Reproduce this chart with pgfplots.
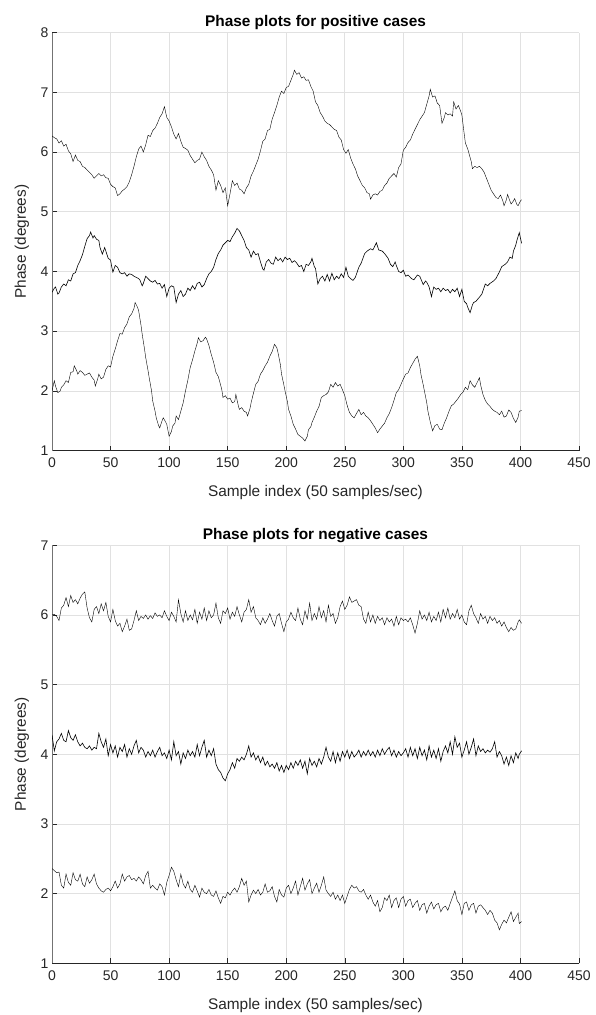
\documentclass[border=0pt]{standalone}
\usepackage{fontspec}
\setmainfont{Liberation Sans}
\usepackage{pgfplots}
\pgfplotsset{compat=1.18}
\definecolor{gridc}{RGB}{225,225,225}
\definecolor{axc}{RGB}{38,38,38}
\pgfplotsset{
  common/.style={
    scale only axis, width=527pt, height=418pt,
    anchor=south west,
    xmin=0, xmax=450, xtick={0,50,...,450},
    axis lines=left,
    x axis line style={-, draw=axc, line width=0.6pt},
    y axis line style={-, draw=black!55, line width=0.9pt},
    tick align=inside, major tick length=5pt,
    every tick/.style={axc, line width=0.5pt},
    grid=major, major grid style={gridc, line width=0.6pt},
    tick label style={font=\fontsize{14}{16}\selectfont, text=axc},
    xticklabel style={yshift=-4pt},
    /pgf/number format/assume math mode=true,
    label style={font=\fontsize{15.4}{17}\selectfont, text=axc},
    xlabel style={at={(axis description cs:0.5,0)}, anchor=center, yshift=-42pt},
    ylabel style={at={(axis description cs:-0.057,0.5)}, anchor=center},
    title style={font=\bfseries\fontsize{15.4}{17}\selectfont, yshift=-7pt},
    xlabel={Sample index (50 samples/sec)},
    ylabel={Phase (degrees)},
    cycle list={{black, line width=0.6pt}},
    every axis plot/.append style={no marks},
  }
}
\begin{document}
\begin{tikzpicture}
\path[use as bounding box] (0,0) rectangle (595pt,1015pt);
\begin{axis}[common, at={(52pt,564.4pt)}, ymin=1, ymax=8, ytick={1,...,8},
  title={Phase plots for positive cases}]
\addplot coordinates {(0,6.27) (2,6.24) (4,6.22) (6,6.15) (8,6.19) (10,6.10) (12,6.13) (14,6.02) (16,5.97) (18,5.84) (20,5.95) (22,5.86) (24,5.84) (26,5.76) (28,5.74) (30,5.70) (32,5.66) (34,5.62) (36,5.56) (38,5.60) (40,5.64) (42,5.60) (44,5.62) (46,5.57) (48,5.56) (50,5.46) (52,5.42) (54,5.40) (56,5.27) (58,5.30) (60,5.35) (62,5.38) (64,5.42) (66,5.50) (68,5.62) (70,5.76) (72,5.92) (74,6.05) (76,6.10) (78,6.00) (80,6.12) (82,6.28) (84,6.26) (86,6.36) (88,6.40) (90,6.48) (92,6.58) (94,6.64) (96,6.76) (98,6.58) (100,6.52) (102,6.42) (104,6.30) (106,6.22) (108,6.31) (110,6.18) (112,6.08) (114,6.06) (116,6.03) (118,5.94) (120,5.88) (122,5.82) (124,5.86) (126,5.88) (128,6.00) (130,5.92) (132,5.86) (134,5.76) (136,5.70) (138,5.62) (140,5.36) (142,5.52) (144,5.44) (146,5.32) (148,5.40) (150,5.10) (152,5.30) (154,5.52) (156,5.44) (158,5.48) (160,5.38) (162,5.36) (164,5.30) (166,5.40) (168,5.46) (170,5.60) (172,5.68) (174,5.78) (176,5.88) (178,6.02) (180,6.18) (182,6.22) (184,6.36) (186,6.38) (188,6.55) (190,6.66) (192,6.78) (194,6.92) (196,7.02) (198,6.98) (200,7.08) (202,7.10) (204,7.20) (206,7.30) (207,7.37) (209,7.30) (211,7.33) (213,7.24) (215,7.26) (217,7.20) (219,7.21) (221,7.10) (223,7.02) (225,6.84) (227,6.78) (229,6.66) (231,6.60) (233,6.52) (235,6.48) (237,6.46) (239,6.42) (241,6.38) (243,6.36) (245,6.25) (247,6.20) (249,6.04) (251,5.98) (253,6.04) (255,5.90) (257,5.80) (259,5.72) (261,5.60) (263,5.52) (265,5.44) (267,5.40) (269,5.32) (271,5.30) (272,5.21) (274,5.28) (276,5.30) (278,5.28) (280,5.34) (282,5.36) (284,5.44) (286,5.48) (288,5.56) (290,5.60) (292,5.64) (294,5.58) (296,5.74) (298,5.80) (300,6.03) (302,6.08) (304,6.16) (306,6.20) (308,6.30) (310,6.38) (312,6.46) (314,6.54) (316,6.60) (318,6.66) (320,6.80) (322,6.94) (323,7.05) (325,6.92) (327,6.94) (329,6.82) (331,6.78) (333,6.48) (335,6.58) (336,6.66) (338,6.62) (340,6.64) (342,6.60) (343,6.84) (345,6.72) (347,6.78) (349,6.68) (350,6.62) (352,6.30) (353,6.15) (355,6.05) (356,5.98) (358,5.84) (359,5.72) (361,5.76) (363,5.74) (365,5.76) (367,5.72) (369,5.66) (371,5.56) (373,5.46) (375,5.36) (377,5.30) (379,5.24) (381,5.22) (383,5.28) (385,5.18) (386,5.10) (388,5.20) (389,5.29) (391,5.18) (392,5.13) (394,5.18) (395,5.22) (397,5.12) (398,5.10) (400,5.18) (401,5.20)};
\addplot coordinates {(0,3.65) (2,3.72) (3,3.74) (5,3.62) (6,3.64) (8,3.74) (10,3.79) (12,3.76) (14,3.86) (16,3.84) (18,3.96) (20,3.98) (22,4.10) (24,4.18) (26,4.28) (28,4.42) (30,4.55) (32,4.60) (33,4.66) (35,4.56) (36,4.60) (38,4.54) (40,4.52) (41,4.40) (43,4.29) (45,4.40) (46,4.34) (48,4.22) (50,4.19) (51,4.08) (52,3.99) (54,4.10) (56,4.07) (58,3.98) (60,3.96) (62,3.98) (64,3.92) (66,3.96) (68,3.95) (70,3.92) (72,3.90) (74,3.88) (75,3.86) (77,3.76) (78,3.80) (80,3.92) (82,3.88) (84,3.84) (86,3.82) (88,3.85) (90,3.79) (92,3.80) (94,3.72) (96,3.78) (98,3.58) (100,3.72) (102,3.76) (104,3.74) (106,3.48) (108,3.62) (110,3.68) (112,3.58) (114,3.62) (116,3.72) (118,3.68) (120,3.76) (122,3.70) (124,3.80) (126,3.82) (128,3.74) (130,3.78) (132,3.88) (134,3.96) (136,4.00) (138,4.07) (140,4.20) (142,4.30) (144,4.36) (146,4.44) (148,4.48) (150,4.52) (152,4.50) (154,4.58) (156,4.64) (158,4.72) (160,4.68) (162,4.60) (164,4.52) (166,4.40) (168,4.36) (170,4.24) (172,4.34) (174,4.28) (176,4.30) (178,4.16) (180,4.04) (181,4.02) (183,4.16) (185,4.20) (187,4.14) (189,4.12) (191,4.24) (193,4.18) (195,4.22) (197,4.16) (199,4.24) (201,4.20) (203,4.22) (205,4.15) (207,4.18) (209,4.14) (211,4.08) (213,4.10) (215,4.00) (217,4.12) (219,4.10) (221,4.16) (222,4.22) (224,4.08) (225,4.05) (227,3.79) (229,3.88) (231,3.92) (233,3.84) (235,3.95) (237,3.84) (239,3.97) (241,3.86) (243,3.92) (245,3.88) (247,3.96) (249,3.90) (251,4.07) (253,3.92) (255,3.88) (257,3.85) (259,3.90) (262,4.07) (264,4.14) (267,4.30) (269,4.34) (272,4.38) (274,4.36) (277,4.48) (279,4.36) (282,4.34) (284,4.30) (287,4.22) (289,4.12) (291,4.08) (293,4.16) (294,4.10) (296,4.00) (298,3.98) (300,4.02) (302,3.92) (304,3.94) (307,3.88) (309,3.86) (312,3.94) (314,3.92) (317,3.78) (319,3.84) (320,3.82) (322,3.74) (324,3.58) (326,3.74) (328,3.70) (330,3.72) (332,3.66) (334,3.72) (336,3.68) (338,3.70) (340,3.64) (342,3.70) (344,3.66) (346,3.72) (348,3.58) (350,3.70) (352,3.50) (354,3.46) (355,3.40) (357,3.31) (359,3.44) (360,3.48) (362,3.50) (365,3.57) (367,3.62) (370,3.79) (372,3.76) (374,3.80) (377,3.84) (379,3.88) (382,3.99) (384,4.08) (387,4.12) (389,4.16) (391,4.24) (393,4.22) (394,4.34) (396,4.44) (397,4.52) (399,4.65) (401,4.47)};
\addplot coordinates {(0,2.00) (2,2.17) (3,2.08) (5,1.97) (7,2.00) (8,2.06) (10,2.10) (12,2.17) (14,2.14) (16,2.31) (18,2.32) (19,2.42) (21,2.34) (22,2.28) (24,2.34) (26,2.31) (28,2.26) (30,2.28) (32,2.30) (34,2.23) (36,2.18) (37,2.08) (39,2.20) (40,2.28) (42,2.20) (44,2.23) (46,2.36) (48,2.42) (50,2.40) (52,2.58) (54,2.70) (56,2.84) (58,2.96) (60,2.95) (62,3.06) (64,3.12) (66,3.24) (68,3.29) (70,3.38) (71,3.48) (73,3.40) (74,3.34) (76,3.10) (77,2.95) (79,2.70) (80,2.56) (82,2.34) (83,2.22) (85,2.00) (86,1.83) (88,1.66) (89,1.55) (91,1.42) (92,1.38) (94,1.50) (95,1.55) (97,1.48) (98,1.44) (100,1.24) (102,1.32) (103,1.41) (105,1.46) (106,1.58) (108,1.52) (110,1.66) (112,1.80) (114,2.00) (116,2.18) (118,2.39) (120,2.52) (122,2.67) (124,2.80) (125,2.89) (127,2.82) (129,2.84) (131,2.90) (132,2.87) (134,2.76) (136,2.61) (138,2.48) (140,2.31) (142,2.24) (143,2.17) (145,2.02) (146,1.89) (148,1.92) (150,1.86) (152,1.88) (154,1.80) (156,1.82) (157,1.94) (159,1.76) (160,1.69) (162,1.72) (164,1.66) (166,1.64) (167,1.58) (169,1.70) (170,1.80) (172,1.96) (174,2.11) (176,2.16) (178,2.28) (180,2.34) (182,2.42) (184,2.48) (186,2.58) (188,2.66) (190,2.78) (192,2.72) (193,2.64) (195,2.44) (196,2.28) (198,2.10) (199,2.00) (201,1.82) (202,1.69) (204,1.58) (206,1.44) (208,1.36) (210,1.27) (212,1.24) (214,1.21) (216,1.16) (218,1.24) (219,1.35) (221,1.40) (222,1.47) (224,1.56) (226,1.66) (228,1.74) (230,1.89) (232,1.92) (234,1.94) (236,1.98) (238,2.11) (240,2.06) (242,2.14) (244,2.08) (246,2.11) (248,2.02) (250,1.92) (252,1.76) (254,1.64) (256,1.58) (258,1.55) (260,1.62) (262,1.69) (264,1.60) (266,1.64) (268,1.58) (270,1.55) (272,1.50) (274,1.44) (276,1.38) (278,1.30) (280,1.36) (282,1.41) (284,1.46) (286,1.55) (288,1.62) (290,1.72) (292,1.84) (294,1.97) (296,2.02) (298,2.11) (300,2.20) (302,2.28) (304,2.30) (306,2.39) (308,2.46) (310,2.53) (312,2.58) (314,2.42) (315,2.28) (317,2.10) (318,2.00) (320,1.80) (321,1.66) (323,1.48) (325,1.33) (327,1.42) (329,1.44) (331,1.36) (333,1.35) (335,1.46) (337,1.55) (339,1.66) (341,1.75) (343,1.78) (345,1.83) (347,1.88) (349,1.94) (351,1.98) (353,2.06) (355,2.02) (357,2.17) (359,2.10) (361,2.06) (363,2.14) (365,2.22) (366,2.10) (368,1.94) (370,1.84) (372,1.78) (374,1.74) (376,1.69) (378,1.66) (380,1.64) (382,1.60) (384,1.66) (386,1.56) (388,1.58) (390,1.68) (392,1.64) (394,1.54) (396,1.47) (398,1.56) (399,1.66) (401,1.67)};
\end{axis}
\begin{axis}[common, at={(52pt,51.7pt)}, ymin=1, ymax=7, ytick={1,...,7},
  title={Phase plots for negative cases}]
\addplot coordinates {(0,6.00) (2,6.01) (4,5.98) (6,5.92) (8,6.10) (10,6.14) (12,6.25) (14,6.12) (16,6.28) (18,6.18) (20,6.22) (22,6.16) (24,6.24) (26,6.30) (28,6.33) (30,6.10) (32,5.96) (34,5.90) (36,6.08) (38,6.12) (40,6.02) (42,6.16) (44,6.06) (46,6.18) (48,5.98) (50,5.90) (52,6.08) (54,5.92) (56,5.84) (58,5.88) (60,5.76) (62,5.84) (64,5.94) (66,5.78) (68,5.80) (70,5.92) (72,6.06) (74,5.92) (76,5.98) (78,5.95) (80,6.00) (82,5.94) (84,5.99) (86,5.95) (88,6.03) (90,5.98) (92,6.00) (94,5.96) (96,6.06) (98,5.98) (100,5.92) (102,6.04) (104,5.98) (106,5.90) (108,6.22) (110,6.02) (112,5.90) (114,6.06) (116,5.92) (118,6.00) (120,5.93) (122,6.08) (124,5.88) (126,6.04) (128,5.94) (130,6.10) (132,5.92) (134,6.06) (136,5.96) (138,6.00) (140,6.17) (142,5.96) (144,5.88) (146,6.06) (148,6.02) (150,6.10) (152,5.94) (154,6.04) (156,5.98) (158,6.12) (160,6.00) (162,5.90) (164,6.04) (166,6.08) (168,6.22) (170,6.04) (172,6.12) (174,5.96) (176,5.92) (178,5.86) (180,5.96) (182,5.88) (184,5.94) (186,6.02) (188,5.92) (190,5.84) (192,5.98) (194,6.02) (196,5.88) (198,5.76) (200,5.90) (202,5.94) (204,6.04) (206,5.96) (208,5.92) (210,6.10) (212,5.94) (214,5.86) (216,6.06) (218,5.94) (220,6.17) (222,5.92) (224,6.02) (226,5.94) (228,6.12) (230,5.96) (232,6.06) (234,5.90) (236,6.14) (238,5.98) (240,6.02) (242,5.88) (244,5.96) (246,6.12) (248,6.20) (250,6.08) (252,6.14) (254,6.26) (256,6.18) (258,6.20) (260,6.22) (262,6.14) (264,6.12) (266,5.94) (268,5.88) (270,6.04) (272,5.90) (274,6.00) (276,5.88) (278,5.98) (280,5.92) (282,5.96) (284,5.86) (286,5.96) (288,5.90) (290,5.94) (292,5.84) (294,5.98) (296,5.86) (298,5.96) (300,5.92) (302,5.94) (304,5.90) (306,5.96) (308,5.86) (310,5.74) (312,5.88) (314,6.06) (316,5.94) (318,6.00) (320,5.92) (322,6.04) (324,5.90) (326,5.98) (328,5.92) (330,6.04) (332,5.90) (334,6.08) (336,5.96) (338,6.10) (340,5.94) (342,6.02) (344,5.96) (346,6.08) (348,5.94) (350,6.00) (352,5.90) (354,5.86) (356,6.06) (358,6.14) (360,6.02) (362,5.96) (364,5.88) (366,6.02) (368,5.94) (370,5.98) (372,5.88) (374,5.98) (376,5.92) (378,5.96) (380,5.88) (382,5.92) (384,5.84) (386,5.90) (388,5.82) (390,5.76) (392,5.82) (394,5.78) (396,5.80) (398,5.90) (399,5.93) (401,5.88)};
\addplot coordinates {(0,4.28) (2,4.05) (4,4.18) (6,4.22) (8,4.30) (10,4.20) (12,4.18) (14,4.34) (16,4.24) (18,4.20) (20,4.28) (22,4.18) (24,4.12) (26,4.16) (28,4.10) (30,4.08) (32,4.12) (34,4.06) (36,4.10) (38,4.08) (40,4.30) (42,4.18) (44,4.10) (46,4.22) (48,3.98) (50,4.14) (52,4.02) (54,4.12) (56,3.96) (58,4.10) (60,4.04) (62,4.14) (64,3.96) (66,4.08) (68,4.00) (70,4.12) (72,4.20) (74,4.02) (76,4.10) (78,4.06) (80,3.96) (82,4.04) (84,3.98) (86,4.06) (88,3.96) (90,4.04) (92,4.10) (94,3.98) (96,4.02) (98,3.94) (100,4.06) (102,3.92) (104,4.18) (106,3.98) (108,4.04) (110,3.86) (112,4.02) (114,3.94) (116,4.06) (118,3.98) (120,4.04) (122,3.96) (124,4.14) (126,3.98) (128,4.10) (130,4.20) (132,3.96) (134,4.06) (136,3.98) (138,4.08) (140,3.86) (142,3.78) (144,3.74) (146,3.66) (148,3.62) (150,3.72) (152,3.78) (154,3.88) (156,3.80) (158,3.94) (160,3.90) (162,3.96) (164,3.92) (166,4.00) (168,4.12) (170,3.96) (172,4.02) (174,3.92) (176,3.98) (178,3.88) (180,3.96) (182,3.84) (184,3.90) (186,3.82) (188,3.86) (190,3.80) (192,3.88) (194,3.76) (196,3.84) (198,3.74) (200,3.84) (202,3.78) (204,3.88) (206,3.80) (208,3.90) (210,3.84) (212,3.92) (214,3.80) (216,3.90) (218,3.72) (220,3.94) (222,3.84) (224,3.90) (226,3.82) (228,3.94) (230,3.86) (232,3.96) (234,4.10) (236,3.96) (238,3.90) (240,4.04) (242,3.88) (244,4.02) (246,3.90) (248,4.04) (250,3.96) (252,4.06) (254,3.94) (256,4.04) (258,3.96) (260,4.00) (262,4.06) (264,3.96) (266,4.04) (268,3.98) (270,4.06) (272,3.98) (274,4.04) (276,3.96) (278,4.06) (280,3.98) (282,4.08) (284,4.00) (286,4.06) (288,4.10) (290,3.98) (292,4.06) (294,3.96) (296,4.04) (298,3.98) (300,4.02) (302,4.08) (304,3.96) (306,4.10) (308,3.98) (310,4.08) (312,3.94) (314,4.10) (316,3.98) (318,4.06) (320,3.92) (322,4.12) (324,3.96) (326,4.06) (328,3.94) (330,4.08) (332,3.90) (334,4.04) (336,4.12) (338,4.02) (340,4.18) (342,4.00) (344,4.25) (346,4.10) (348,4.16) (350,3.96) (352,4.06) (354,4.18) (356,4.00) (358,4.10) (360,4.22) (362,3.98) (364,4.12) (366,4.04) (368,4.08) (370,4.02) (372,4.06) (374,4.03) (376,4.08) (378,4.18) (380,3.96) (382,4.04) (384,3.98) (386,3.86) (388,3.96) (390,3.84) (392,3.98) (394,3.88) (396,4.02) (398,3.94) (399,4.00) (401,4.05)};
\addplot coordinates {(0,2.36) (2,2.33) (4,2.30) (6,2.31) (8,2.12) (10,2.08) (12,2.28) (14,2.16) (16,2.12) (18,2.30) (20,2.20) (22,2.18) (24,2.28) (26,2.14) (28,2.10) (30,2.24) (32,2.15) (34,2.20) (36,2.28) (38,2.14) (40,2.08) (42,2.04) (44,2.02) (46,2.06) (48,2.08) (50,2.04) (52,2.10) (54,2.18) (56,2.08) (58,2.14) (60,2.28) (62,2.18) (64,2.24) (66,2.26) (68,2.20) (70,2.22) (72,2.18) (74,2.24) (76,2.20) (78,2.14) (80,2.26) (82,2.32) (84,2.08) (86,2.12) (88,2.08) (90,2.05) (92,2.14) (94,2.10) (96,1.98) (98,2.16) (100,2.26) (102,2.38) (104,2.32) (106,2.20) (108,2.10) (110,2.28) (112,2.14) (114,2.08) (116,2.18) (118,2.06) (120,2.02) (122,2.12) (124,2.04) (126,1.95) (128,2.08) (130,2.02) (132,2.00) (134,2.06) (136,1.98) (138,1.96) (140,2.04) (142,1.94) (144,1.86) (146,1.96) (148,1.94) (150,2.02) (152,1.98) (154,2.04) (156,2.08) (158,2.02) (160,2.10) (162,2.22) (164,2.12) (166,2.18) (168,1.88) (170,1.98) (172,2.05) (174,2.00) (176,2.06) (178,1.98) (180,2.02) (182,2.14) (184,2.02) (186,2.04) (188,2.10) (190,1.96) (192,1.88) (194,2.06) (196,1.98) (198,1.95) (200,2.08) (202,2.12) (204,2.00) (206,2.08) (208,2.18) (210,1.98) (212,2.10) (214,2.22) (216,2.05) (218,2.14) (220,2.20) (222,2.00) (224,2.08) (226,2.15) (228,2.02) (230,2.12) (232,2.24) (234,2.05) (236,2.00) (238,1.96) (240,2.02) (242,1.92) (244,1.98) (246,1.90) (248,1.98) (250,1.86) (252,1.96) (254,2.06) (256,2.12) (258,2.08) (260,2.10) (262,2.04) (264,2.02) (266,2.06) (268,1.98) (270,1.92) (272,1.98) (274,1.88) (276,1.82) (278,1.90) (280,1.74) (282,1.80) (284,1.94) (286,1.90) (288,1.98) (290,1.80) (292,1.90) (294,1.94) (296,1.80) (298,1.92) (300,1.96) (302,1.82) (304,1.90) (306,1.92) (308,1.80) (310,1.86) (312,1.90) (314,1.76) (316,1.84) (318,1.86) (320,1.72) (322,1.82) (324,1.88) (326,1.78) (328,1.84) (330,1.86) (332,1.74) (334,1.80) (336,1.82) (338,1.76) (340,1.86) (342,1.95) (344,2.04) (346,1.90) (348,1.85) (350,1.70) (352,1.86) (354,1.88) (356,1.76) (358,1.84) (360,1.86) (362,1.72) (364,1.82) (366,1.84) (368,1.80) (370,1.76) (372,1.70) (374,1.76) (376,1.72) (378,1.62) (380,1.58) (382,1.48) (384,1.56) (386,1.62) (388,1.58) (390,1.66) (392,1.74) (394,1.60) (396,1.66) (398,1.72) (399,1.57) (401,1.60)};
\end{axis}
\end{tikzpicture}
\end{document}
